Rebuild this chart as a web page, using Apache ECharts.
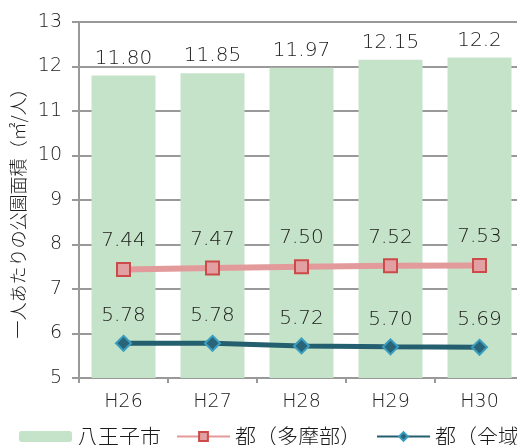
<!DOCTYPE html>
<html>
<head>
<meta charset="utf-8">
<script src="https://cdn.jsdelivr.net/npm/echarts@6/dist/echarts.min.js"></script>
<style>
  html, body { margin: 0; padding: 0; background: #fff; overflow: hidden; }
  /* the drawing is a little wider than the window; its right edge is clipped */
  #chart { width: 524px; height: 445px; }
</style>
</head>
<body>
<div id="chart"></div>
<script>
// Fiscal years (Heisei)
const years = ['H26', 'H27', 'H28', 'H29', 'H30'];
// Park area per person (m²/person)
const hachioji = [11.80, 11.85, 11.97, 12.15, 12.2];
const tamaArea = [7.44, 7.47, 7.50, 7.52, 7.53];
const tokyoAll = [5.78, 5.78, 5.72, 5.70, 5.69];
const barLabels = ['11.80', '11.85', '11.97', '12.15', '12.2'];
const seriesNames = ['八王子市', '都（多摩部）', '都（全域）'];
const axisName = '一人あたりの公園面積（㎡/人）';

const FONT = '"DejaVu Sans", "Noto Sans CJK JP", sans-serif';
const CJK = '"Noto Sans CJK JP", sans-serif';
const TXT = '#1a1a1a';
const W = 200;
const chart = echarts.init(document.getElementById('chart'));

chart.setOption({
  animation: false,
  textStyle: { fontFamily: FONT, color: TXT, fontWeight: W },
  grid: { left: 79, top: 22, right: 0, bottom: 67 },
  legend: {
    left: 14,
    top: 421,
    width: 800,
    itemWidth: 53,
    itemHeight: 11,
    itemGap: 15,
    textStyle: { fontSize: 21, color: TXT, fontFamily: CJK },
    data: seriesNames
  },
  xAxis: {
    type: 'category',
    data: years,
    axisLine: { lineStyle: { color: '#999', width: 2 } },
    axisTick: { show: true, length: 5, lineStyle: { color: '#999', width: 2 } },
    axisLabel: { fontSize: 19, color: TXT, margin: 15, fontWeight: W }
  },
  yAxis: {
    type: 'value',
    min: 5,
    max: 13,
    interval: 1,
    name: axisName,
    nameLocation: 'middle',
    nameRotate: 90,
    nameGap: 52,
    nameTextStyle: { fontSize: 18, color: TXT, fontFamily: CJK, padding: [0, 0, 0, -18] },
    axisLine: { show: true, lineStyle: { color: '#999', width: 2 } },
    axisTick: { show: true, length: 7, lineStyle: { color: '#999', width: 2 } },
    axisLabel: { fontSize: 19, color: TXT, margin: 17, fontWeight: W },
    splitLine: { lineStyle: { color: '#999', width: 2 } }
  },
  series: [
    {
      name: seriesNames[0],
      type: 'bar',
      data: hachioji,
      barWidth: 64,
      itemStyle: { color: '#c5e3c8' },
      label: {
        show: true,
        position: 'top',
        distance: 7,
        fontSize: 20,
        fontWeight: W,
        color: TXT,
        formatter: p => barLabels[p.dataIndex]
      }
    },
    {
      name: seriesNames[1],
      type: 'line',
      data: tamaArea,
      symbol: 'rect',
      symbolSize: 13,
      lineStyle: { color: '#e39a9a', width: 6 },
      itemStyle: { color: '#e3a0a3', borderColor: '#cc4a4a', borderWidth: 2 },
      label: {
        show: true,
        position: 'top',
        distance: 11,
        fontSize: 20,
        fontWeight: W,
        color: TXT,
        formatter: p => p.value.toFixed(2)
      },
      z: 3
    },
    {
      name: seriesNames[2],
      type: 'line',
      data: tokyoAll,
      symbol: 'diamond',
      symbolSize: 15,
      lineStyle: { color: '#245f6f', width: 5 },
      itemStyle: { color: '#2a6478', borderColor: '#3a9ec0', borderWidth: 2 },
      label: {
        show: true,
        position: 'top',
        distance: 9,
        fontSize: 20,
        fontWeight: W,
        color: TXT,
        formatter: p => p.value.toFixed(2)
      },
      z: 3
    }
  ]
});
</script>
</body>
</html>
